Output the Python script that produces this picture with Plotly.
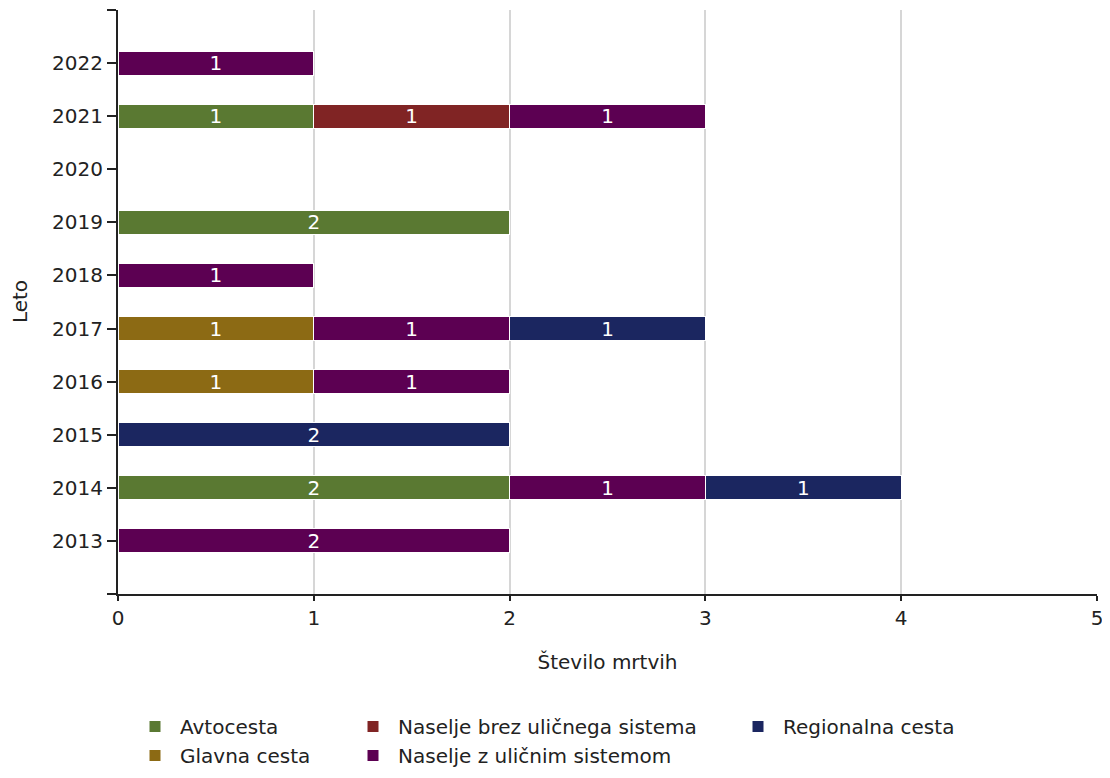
import plotly.graph_objects as go

years = [2013, 2014, 2015, 2016, 2017, 2018, 2019, 2020, 2021, 2022]
avtocesta = [None, 2, None, None, None, None, 2, None, 1, None]
glavna = [None, None, None, 1, 1, None, None, None, None, None]
naselje_brez = [None, None, None, None, None, None, None, None, 1, None]
naselje_z = [2, 1, None, 1, 1, 1, None, None, 1, 1]
regionalna = [None, 1, 2, None, 1, None, None, None, None, None]

series = [
    ("Avtocesta", avtocesta, "#5a7932", "legend"),
    ("Glavna cesta", glavna, "#8c6a14", "legend"),
    ("Naselje brez uličnega sistema", naselje_brez, "#802424", "legend2"),
    ("Naselje z uličnim sistemom", naselje_z, "#5c0052", "legend2"),
    ("Regionalna cesta", regionalna, "#1b2660", "legend3"),
]

FONT = "DejaVu Sans"
FS = 20
W, H = 1094, 762

fig = go.Figure()
for name, vals, color, leg in series:
    fig.add_trace(go.Bar(
        y=years, x=vals, name=name, orientation="h",
        marker=dict(color=color, line=dict(color="white", width=1)),
        text=[str(v) if v else "" for v in vals],
        textposition="inside", insidetextanchor="middle",
        textangle=0, constraintext="none",
        textfont=dict(color="white", size=FS, family=FONT),
        legend=leg,
    ))

tick_years = [years[0] - 1] + years + [years[-1] + 1]
tick_text = [""] + [str(y) for y in years] + [""]

legend_common = dict(
    orientation="v", xanchor="left", yanchor="top",
    font=dict(size=FS, family=FONT, color="#222"),
    bgcolor="rgba(0,0,0,0)", tracegroupgap=0, itemwidth=40,
    traceorder="normal",
    xref="container", yref="container",
)
leg_y = 1 - 699 / H

fig.update_layout(
    width=W, height=H,
    margin=dict(l=110, r=5, t=2, b=176, autoexpand=False),
    barmode="stack", bargap=0.55,
    plot_bgcolor="white", paper_bgcolor="white",
    font=dict(family=FONT, size=FS, color="#222"),
    showlegend=True,
    legend=dict(legend_common, x=122 / W, y=leg_y),
    legend2=dict(legend_common, x=340 / W, y=leg_y),
    legend3=dict(legend_common, x=725 / W, y=leg_y),
    xaxis=dict(
        range=[0, 5], tickvals=[0, 1, 2, 3, 4, 5],
        showgrid=True, gridcolor="#d6d6d6", gridwidth=2,
        showline=True, linecolor="#222", linewidth=2,
        ticks="outside", ticklen=5, tickwidth=2, tickcolor="#222",
        ticklabeloverflow="allow",
        zeroline=False, automargin=False,
        title=dict(text="Število mrtvih", standoff=26, font=dict(size=FS)),
    ),
    yaxis=dict(
        range=[years[0] - 1, years[-1] + 1],
        tickvals=tick_years, ticktext=tick_text,
        showgrid=False, showline=True, linecolor="#222", linewidth=2,
        ticks="outside", ticklen=9, tickwidth=2, tickcolor="#222",
        zeroline=False, automargin=False,
    ),
    annotations=[dict(
        text="Leto", xref="paper", yref="paper", x=-0.1, y=0.5,
        xanchor="center", yanchor="middle", textangle=-90, showarrow=False,
        font=dict(size=FS, family=FONT, color="#222"),
    )],
)

fig.write_html("out.html")
